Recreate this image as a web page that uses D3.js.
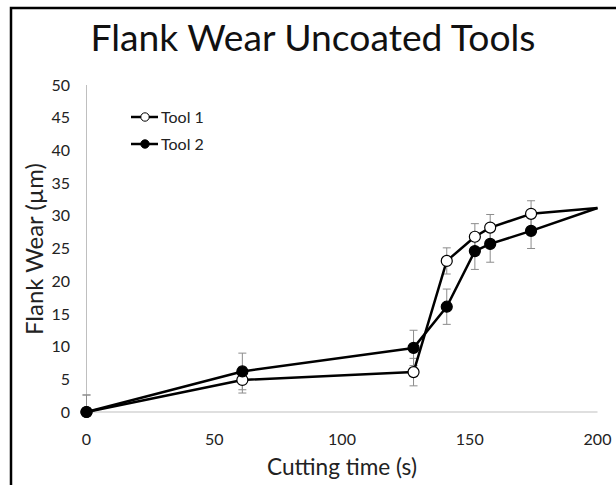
<!DOCTYPE html>
<html>
<head>
<meta charset="utf-8">
<script src="https://cdn.jsdelivr.net/npm/d3@7"></script>
<style>
  body { margin: 0; background: #fff; }
  text { font-family: Lato, "Open Sans", sans-serif; fill: #222; }
</style>
</head>
<body>
<svg id="chart" width="616" height="485"></svg>
<script>
// cutting time (s)
const times = [0, 61, 128, 141, 152, 158, 174, 200];
// flank wear (µm)
const tool1 = [0, 4.9, 6.1, 23.1, 26.8, 28.2, 30.3, 31.2];
const tool2 = [0, 6.2, 9.8, 16.1, 24.6, 25.7, 27.7, 31.2];
// error bar half-widths (null = no bar)
const err1 = [2.6, 2.0, 2.1, 2.0, 2.0, 2.0, 2.0, null];
const err2 = [2.6, 2.8, 2.7, 2.7, 2.8, 2.8, 2.7, null];
// last point has no marker in the original
const hasMarker = [true, true, true, true, true, true, true, false];
const yTicks = [0, 5, 10, 15, 20, 25, 30, 35, 40, 45, 50];
const xTicks = [0, 50, 100, 150, 200];
const seriesNames = ["Tool 1", "Tool 2"];

const svg = d3.select("#chart");

// outer frame
svg.append("rect")
  .attr("x", 11).attr("y", 8)
  .attr("width", 620).attr("height", 490)
  .attr("fill", "none").attr("stroke", "#000").attr("stroke-width", 2.5);

const x = d3.scaleLinear().domain([0, 200]).range([86.5, 597.5]);
const y = d3.scaleLinear().domain([0, 50]).range([412, 85]);

// axes lines
svg.append("line")
  .attr("x1", x(0)).attr("x2", x(0)).attr("y1", y(50)).attr("y2", y(0))
  .attr("stroke", "#bfbfbf").attr("stroke-width", 1);
svg.append("line")
  .attr("x1", x(0)).attr("x2", x(200)).attr("y1", y(0)).attr("y2", y(0))
  .attr("stroke", "#bfbfbf").attr("stroke-width", 1);

// tick labels
svg.selectAll(".ytick").data(yTicks).enter().append("text")
  .attr("x", 70).attr("y", d => y(d))
  .attr("dy", "0.35em").attr("text-anchor", "end")
  .style("font-size", "16px").text(d => d);

svg.selectAll(".xtick").data(xTicks).enter().append("text")
  .attr("x", d => x(d)).attr("y", 445)
  .attr("text-anchor", "middle")
  .style("font-size", "16px").text(d => d);

// titles
const fitText = (sel, w) => {
  const n = sel.node();
  const cur = parseFloat(sel.style("font-size"));
  sel.style("font-size", (cur * w / n.getComputedTextLength()) + "px");
};

const title = svg.append("text")
  .attr("x", 313).attr("y", 51).attr("text-anchor", "middle")
  .style("font-size", "31px").style("fill", "#111")
  .text("Flank Wear Uncoated Tools");
fitText(title, 445);

const xl = svg.append("text")
  .attr("x", 342).attr("y", 475).attr("text-anchor", "middle")
  .style("font-size", "20px").text("Cutting time (s)");
fitText(xl, 150);

const yl = svg.append("text")
  .attr("transform", "translate(43,249) rotate(-90)")
  .attr("text-anchor", "middle")
  .style("font-size", "20px").text("Flank Wear (µm)");
fitText(yl, 172);

const series = [
  { vals: tool1, err: err1, fill: "#fff" },
  { vals: tool2, err: err2, fill: "#000" }
];

// error bars
series.forEach(s => {
  const g = svg.append("g").attr("stroke", "#8c8c8c").attr("stroke-width", 1);
  times.forEach((t, i) => {
    if (s.err[i] == null) return;
    const lo = Math.max(0, s.vals[i] - s.err[i]);
    const hi = s.vals[i] + s.err[i];
    g.append("line").attr("x1", x(t)).attr("x2", x(t)).attr("y1", y(lo)).attr("y2", y(hi));
    g.append("line").attr("x1", x(t) - 4).attr("x2", x(t) + 4).attr("y1", y(hi)).attr("y2", y(hi));
    if (lo > 0)
      g.append("line").attr("x1", x(t) - 4).attr("x2", x(t) + 4).attr("y1", y(lo)).attr("y2", y(lo));
  });
});

const line = d3.line().x((d, i) => x(times[i])).y(d => y(d));

series.forEach(s => {
  svg.append("path").datum(s.vals)
    .attr("d", line).attr("fill", "none")
    .attr("stroke", "#000").attr("stroke-width", 2.5)
    .attr("stroke-linejoin", "round");
});

series.forEach(s => {
  svg.selectAll(null).data(s.vals.filter((d, i) => hasMarker[i]))
    .enter().append("circle")
    .attr("cx", (d, i) => x(times[i])).attr("cy", d => y(d))
    .attr("r", 5.5).attr("fill", s.fill)
    .attr("stroke", "#000").attr("stroke-width", 1.2);
});

// legend
const legend = svg.append("g");
seriesNames.forEach((name, i) => {
  const ly = 117 + i * 27;
  legend.append("line").attr("x1", 131).attr("x2", 158).attr("y1", ly).attr("y2", ly)
    .attr("stroke", "#000").attr("stroke-width", 2.5);
  legend.append("circle").attr("cx", 145).attr("cy", ly).attr("r", 4.2)
    .attr("fill", series[i].fill).attr("stroke", "#000").attr("stroke-width", 1);
  legend.append("text").attr("x", 161).attr("y", ly).attr("dy", "0.35em")
    .style("font-size", "16px").text(name);
});
</script>
</body>
</html>
